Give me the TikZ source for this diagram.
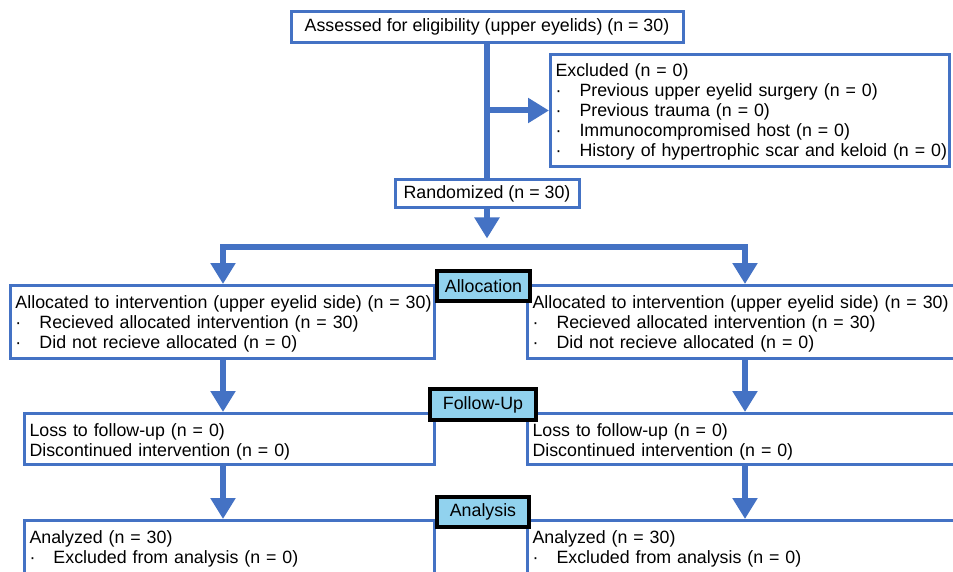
\documentclass[tikz,border=0pt]{standalone}
\usepackage{fontspec}
\setmainfont{Liberation Sans}
\usepackage{tikz}
\usetikzlibrary{arrows.meta,positioning}
\usepackage{xcolor}
\definecolor{boxblue}{RGB}{68,114,196}
\definecolor{labelblue}{RGB}{145,210,238}
\newcommand{\itemdot}{\makebox[24pt][l]{\textperiodcentered}}

\begin{document}
\begin{tikzpicture}[
  x=1pt,y=-1pt,
  font=\fontsize{17.8pt}{20pt}\selectfont,
  every node/.style={align=left},
  cbox/.style={draw=boxblue,line width=3pt,fill=white,anchor=north west,
               inner xsep=5pt,inner ysep=0pt,text height=22.5pt},
  sbox/.style={draw=boxblue,line width=3pt,fill=white,align=center,inner sep=0pt},
  phase/.style={draw=black,line width=4pt,fill=labelblue,align=center,
               inner sep=0pt,minimum height=30pt},
  link/.style={draw=boxblue,line width=6pt},
  flow/.style={link,-{Triangle[length=21pt,width=24pt]}}
]
\fill[white] (0,0) rectangle (953,572);
\useasboundingbox (0,0) rectangle (953,572);
\clip (0,0) rectangle (953,572);

% --- Enrollment ---
\node[sbox,minimum width=392pt,minimum height=31pt] (assess) at (487,27)
  {Assessed for eligibility (upper eyelids) (n = 30)};
\node[cbox,text width=389pt,text depth=89.5pt] (excl) at (549,53)
  {Excluded (n = 0)\\
   \itemdot Previous upper eyelid surgery (n = 0)\\
   \itemdot Previous trauma (n = 0)\\
   \itemdot Immunocompromised host (n = 0)\\
   \itemdot\mbox{History of hypertrophic scar and keloid (n = 0)}};
\node[sbox,minimum width=184pt,minimum height=28pt] (rand) at (487,193.5)
  {Randomized (n = 30)};

\coordinate (split) at (487,246.5);
\coordinate (colL) at (223,0);
\coordinate (colR) at (745,0);

% --- Allocation row ---
\node[cbox,text width=414pt,text depth=50.5pt] (allocL) at (9,284)
  {\mbox{Allocated to intervention (upper eyelid side) (n = 30)}\\
   \itemdot Recieved allocated intervention (n = 30)\\
   \itemdot Did not recieve allocated (n = 0)};
\node[cbox,text width=431pt,text depth=50.5pt] (allocR) at (526,284)
  {\mbox{Allocated to intervention (upper eyelid side) (n = 30)}\\
   \itemdot Recieved allocated intervention (n = 30)\\
   \itemdot Did not recieve allocated (n = 0)};

% --- Follow-up row ---
\node[cbox,text width=400pt,text depth=28.5pt] (fuL) at (23,412)
  {Loss to follow-up (n = 0)\\
   Discontinued intervention (n = 0)};
\node[cbox,text width=431pt,text depth=28.5pt] (fuR) at (526,412)
  {Loss to follow-up (n = 0)\\
   Discontinued intervention (n = 0)};

% --- Analysis row ---
\node[cbox,text width=400pt,text depth=80pt] (anL) at (23,519)
  {Analyzed (n = 30)\\
   \itemdot Excluded from analysis (n = 0)};
\node[cbox,text width=431pt,text depth=80pt] (anR) at (526,519)
  {Analyzed (n = 30)\\
   \itemdot Excluded from analysis (n = 0)};

% --- Connectors ---
\draw[link] (assess.south) -- (rand.north);
\draw[flow] (assess.south |- excl.west) -- (excl.west);
\draw[flow,shorten >=8pt] (rand.south) -- (split);
\draw[flow] (split) -| (colL |- allocL.north);
\draw[flow] (split) -| (colR |- allocR.north);
\draw[flow] (colL |- allocL.south) -- (colL |- fuL.north);
\draw[flow] (colR |- allocR.south) -- (colR |- fuR.north);
\draw[flow] (colL |- fuL.south) -- (colL |- anL.north);
\draw[flow] (colR |- fuR.south) -- (colR |- anR.north);

% --- Phase labels ---
\node[phase,minimum width=93pt] (allocation) at (483.5,286) {Allocation};
\node[phase,minimum width=106pt,minimum height=31pt] (followup) at (483,404.5) {Follow-Up};
\node[phase,minimum width=92pt] (analysis) at (483,512) {Analysis};
\end{tikzpicture}
\end{document}
